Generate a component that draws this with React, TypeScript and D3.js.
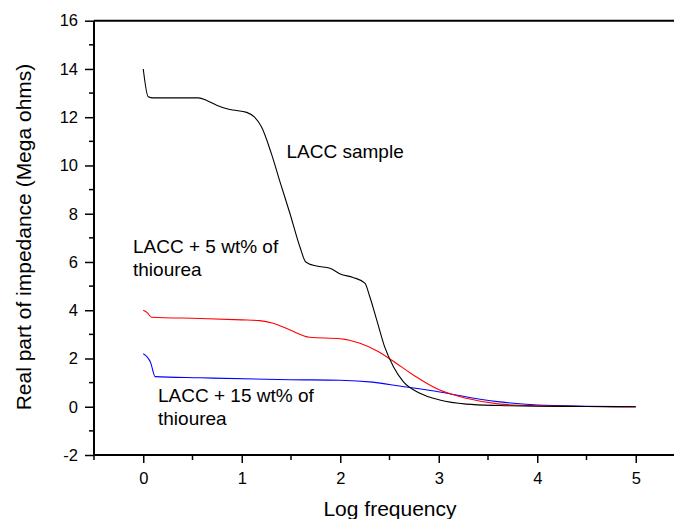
import React, { useRef, useEffect } from "react";
import * as d3 from "d3";

// Log frequency vs real part of impedance (Mega ohms)
const lacc: [number, number][] = [
  [0, 14.0], [0.05, 12.85], [0.1, 12.8], [0.3, 12.8], [0.56, 12.8], [0.65, 12.68],
  [0.745, 12.5], [0.85, 12.35], [0.91, 12.3], [1.05, 12.2], [1.13, 12.0], [1.2, 11.6],
  [1.3, 10.5], [1.39, 9.3], [1.49, 8.0], [1.59, 6.63], [1.65, 6.0], [1.76, 5.83],
  [1.895, 5.74], [2.0, 5.5], [2.13, 5.36], [2.25, 5.12], [2.3, 4.56], [2.37, 3.6],
  [2.45, 2.49], [2.54, 1.66], [2.64, 1.04], [2.81, 0.56], [3.01, 0.28], [3.28, 0.11],
  [3.62, 0.05], [4.0, 0.02], [4.5, 0.01], [5.0, 0.0],
];

const lacc5: [number, number][] = [
  [0, 4.0], [0.04, 3.9], [0.085, 3.71], [0.58, 3.66], [1.0, 3.6], [1.18, 3.57],
  [1.32, 3.46], [1.49, 3.18], [1.69, 2.88], [2.0, 2.82], [2.2, 2.63], [2.37, 2.32],
  [2.52, 1.94], [2.74, 1.32], [3.01, 0.69], [3.28, 0.35], [3.62, 0.11], [4.0, 0.04],
  [4.5, 0.01], [5.0, 0.0],
];

const lacc15: [number, number][] = [
  [0, 2.2], [0.075, 1.83], [0.12, 1.25], [0.58, 1.2], [1.49, 1.12], [2.0, 1.1],
  [2.33, 1.02], [2.6, 0.86], [3.01, 0.61], [3.42, 0.31], [3.62, 0.2], [4.0, 0.07],
  [4.5, 0.02], [5.0, 0.0],
];

const xTicks = [0, 1, 2, 3, 4, 5];
const yTicks = [-2, 0, 2, 4, 6, 8, 10, 12, 14, 16];

function App() {
  const svgRef = useRef<SVGSVGElement>(null);

  useEffect(() => {
    const width = 674;
    const height = 519;
    const left = 94, top = 20.7, bottom = 455;
    const font = "'Liberation Sans', Arial, sans-serif";

    const svg = d3.select(svgRef.current).attr("width", width).attr("height", height);
    svg.selectAll("*").remove();

    const x = d3.scaleLinear().domain([-0.5, 5.5]).range([left, left + 6 * 98.5]);
    const y = d3.scaleLinear().domain([-2, 16]).range([bottom, top]);

    const line = d3.line<[number, number]>()
      .x(d => x(d[0]))
      .y(d => y(d[1]))
      .curve(d3.curveMonotoneX);

    const series = [
      { data: lacc15, color: "#0000ff" },
      { data: lacc5, color: "#ff0000" },
      { data: lacc, color: "#000000" },
    ];
    series.forEach(s => {
      svg.append("path")
        .datum(s.data)
        .attr("d", line)
        .attr("fill", "none")
        .attr("stroke", s.color)
        .attr("stroke-width", 1.1);
    });

    // Axes
    const xAxis = svg.append("g")
      .attr("transform", `translate(0, ${bottom})`)
      .call(d3.axisBottom(x).tickValues(xTicks).tickSize(8).tickPadding(9).tickFormat(d => String(d)));
    xAxis.append("g").selectAll("line")
      .data(d3.range(-0.5, 5.6, 1))
      .enter()
      .append("line")
      .attr("x1", d => x(d)).attr("x2", d => x(d))
      .attr("y1", 0).attr("y2", 5)
      .attr("stroke", "black").attr("stroke-width", 1.5);

    const yAxis = svg.append("g")
      .attr("transform", `translate(${left}, 0)`)
      .call(d3.axisLeft(y).tickValues(yTicks).tickSize(9).tickPadding(7).tickFormat(d => String(d)));
    yAxis.append("g").selectAll("line")
      .data(d3.range(-1, 16, 2))
      .enter()
      .append("line")
      .attr("x1", 0).attr("x2", -5)
      .attr("y1", d => y(d)).attr("y2", d => y(d))
      .attr("stroke", "black").attr("stroke-width", 1.5);

    [xAxis, yAxis].forEach(g => {
      g.select(".domain").attr("stroke-width", 2).attr("stroke", "black");
      g.selectAll(".tick line").attr("stroke-width", 1.5);
      g.selectAll("text").attr("font-family", font).attr("font-size", 16.5).attr("fill", "black");
    });
    xAxis.select(".domain").attr("d", `M${left},0H${width}`);
    yAxis.select(".domain").attr("d", `M0,${bottom}V${top}`);

    // Top frame line
    svg.append("line")
      .attr("x1", left).attr("x2", width)
      .attr("y1", top).attr("y2", top)
      .attr("stroke", "black").attr("stroke-width", 2);

    // Axis titles
    svg.append("text")
      .attr("x", 390)
      .attr("y", 516)
      .attr("text-anchor", "middle")
      .attr("font-family", font)
      .attr("font-size", 21)
      .text("Log frequency");

    svg.append("text")
      .attr("transform", "rotate(-90)")
      .attr("x", -237)
      .attr("y", 31)
      .attr("text-anchor", "middle")
      .attr("font-family", font)
      .attr("font-size", 21)
      .text("Real part of impedance (Mega ohms)");

    // Curve labels
    const labels = [
      { lines: ["LACC sample"], x: 286.5, y: 158 },
      { lines: ["LACC + 5 wt% of", "thiourea"], x: 133, y: 253 },
      { lines: ["LACC + 15 wt% of", "thiourea"], x: 158, y: 402 },
    ];
    labels.forEach(l => {
      l.lines.forEach((t, i) => {
        svg.append("text")
          .attr("x", l.x)
          .attr("y", l.y + i * 23)
          .attr("font-family", font)
          .attr("font-size", 19)
          .attr("fill", "black")
          .text(t);
      });
    });
  }, []);

  return <svg ref={svgRef} style={{ position: "absolute", left: 0, top: 0 }}></svg>;
}

export default App;
